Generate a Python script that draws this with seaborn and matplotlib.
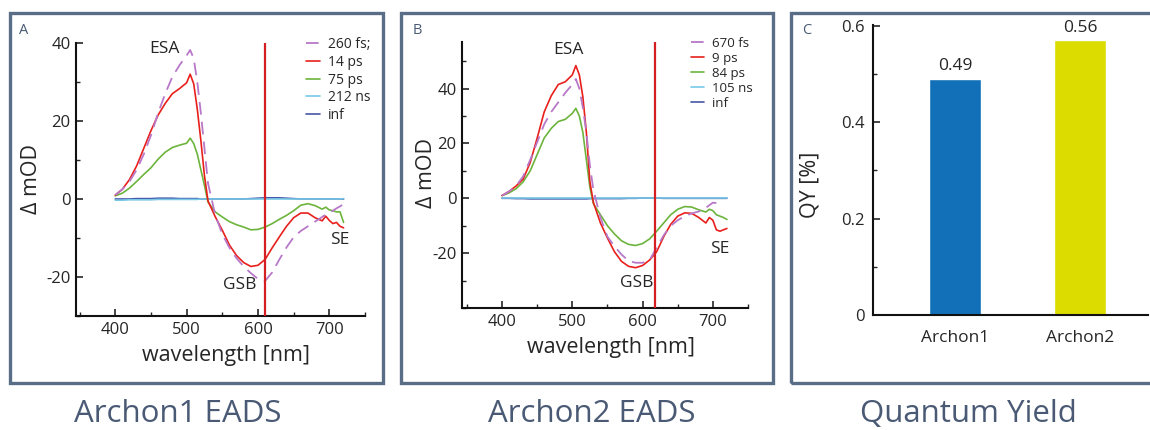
import numpy as np
import pandas as pd
import matplotlib.pyplot as plt
import seaborn as sns
from matplotlib.patches import Rectangle
from matplotlib.ticker import MultipleLocator

# wavelength grid (nm), shared by all EADS spectra
wavelength = [400, 410, 420, 430, 440, 450, 460, 470, 480, 490, 500, 505, 510, 515, 520, 525, 530,
              540, 550, 560, 570, 580, 590, 600, 610, 620, 630, 640, 650, 660, 670, 680, 690,
              695, 700, 705, 710, 715, 720]

# Archon1 EADS (delta mOD)
a_260fs = [1, 2.5, 4.5, 7.5, 11.5, 16.3, 22, 27, 31.3, 34.3, 36.8, 38.2, 36, 30, 22, 13, 4,
           -4, -9, -12.5, -15.2, -17.3, -19, -20.5, -21, -18.8, -15.5, -12.4, -9.8, -8.2, -7, -5.8, -4.6,
           -4, -3.5, -3, -2.4, -1.9, -1.3]
a_14ps = [1, 2.5, 5, 8.5, 13, 17.5, 21.5, 24.5, 27, 28.3, 29.8, 32, 29.5, 23, 15, 6, -0.5,
          -4.5, -8, -11.8, -14.5, -16.3, -17.3, -17, -15.5, -12.5, -9.7, -7, -4.8, -3.6, -3.6, -4.8, -5.6,
          -4.4, -5.5, -6.3, -6, -7, -7.4]
a_75ps = [0.8, 1.5, 2.8, 4.5, 6.3, 8, 10.2, 12, 13.2, 13.8, 14.3, 15.6, 14.2, 11.5, 7.5, 3.5, -0.8,
          -3.3, -4.6, -5.8, -6.6, -7.2, -7.9, -7.8, -7.2, -6.3, -5.2, -4.2, -3, -1.6, -1.2, -1.7, -2.6,
          -2.1, -2.8, -3, -3.3, -3.3, -6]
a_212ns = [-0.3, -0.3, -0.2, -0.2, -0.2, -0.2, -0.1, -0.1, -0.1, -0.1, -0.1, -0.1, -0.1, -0.1, 0, 0, 0,
           0, 0, 0, 0, 0, 0, 0, 0, 0, 0, 0, 0, 0, 0, 0, 0,
           0, 0, 0, 0, 0, 0.1]
a_inf = [0, 0, 0, 0.1, 0.1, 0.1, 0.2, 0.2, 0.2, 0.1, 0.1, 0.1, 0.1, 0.1, 0, 0, 0,
         0, 0, 0, 0, 0, 0.1, 0.2, 0.3, 0.3, 0.3, 0.2, 0.1, 0, 0, 0, 0,
         0, 0, 0, 0, 0, 0]

# Archon2 EADS (delta mOD)
b_670fs = [1, 2.5, 4.5, 8, 14, 20.5, 27, 31.5, 35, 38.5, 41.5, 43.5, 40, 33, 24, 12, 3,
           -7, -14, -17.5, -20.5, -22.8, -23.5, -23.5, -22.5, -18, -13.5, -10, -8, -6.5, -5.5, -4.8, -3.5,
           -2.5, -1.6, -1.7, np.nan, np.nan, np.nan]
b_9ps = [1, 2.5, 4.5, 7, 13, 22, 31.5, 37.4, 41.5, 42.5, 45, 48.4, 45, 37, 24, 6, -1.5,
         -9, -14.5, -19.5, -23, -24.8, -25.3, -24.5, -22.5, -19.5, -14, -9.5, -6.5, -5.3, -5.5, -7, -9,
         -7, -8, -11.5, -12, -11.5, -11]
b_84ps = [1, 2, 3.5, 6, 10, 16, 22, 25.5, 28, 28.8, 31, 32.8, 30, 24, 14, 4, -2,
          -6, -10, -13, -15.5, -16.8, -17.2, -16.5, -14.8, -12, -9, -6, -4, -3, -3.2, -4.2, -5,
          -4, -4.5, -6, -6.5, -7, -7.7]
b_105ns = [0, 0, 0, 0, 0, 0, 0, 0, 0, 0, 0, 0, 0, 0, 0, 0, 0,
           0, 0, 0, 0, 0, 0, 0, 0, 0, 0, 0, 0, 0, 0, 0, 0,
           0, 0, 0, 0, 0, 0]
b_inf = [0, 0, -0.1, -0.1, -0.2, -0.2, -0.2, -0.2, -0.2, -0.2, -0.2, -0.2, -0.2, -0.2, -0.2, -0.1, -0.1,
         -0.1, -0.1, -0.1, -0.1, 0, 0, 0.1, 0.1, 0.1, 0, 0, 0, 0, 0, 0, 0,
         0, 0, 0, 0, 0, 0]

a_labels = ['260 fs;', '14 ps', '75 ps', '212 ns', 'inf']
b_labels = ['670 fs', '9 ps', '84 ps', '105 ns', 'inf']

# quantum yield
qy_names = ['Archon1', 'Archon2']
qy_values = [0.49, 0.57]
qy_text = ['0.49', '0.56']

series_colors = ['#b878c8', '#e8201c', '#6cb43c', '#78c8e6', '#4656a8']
frame_color = '#5a6d87'
title_color = '#4a5a75'

sns.set_style('ticks')
plt.rcParams['font.family'] = ['Open Sans', 'DejaVu Sans']
plt.rcParams['axes.unicode_minus'] = False

W, H = 1150, 430
fig = plt.figure(figsize=(W / 100, H / 100), dpi=100)


def px_rect(left, top, right, bottom):
    return [left / W, 1 - bottom / H, (right - left) / W, (bottom - top) / H]


def draw_eads(ax, curves, labels, xlim, ylim, yticks, pump):
    for i, (vals, lab) in enumerate(zip(curves, labels)):
        style = (0, (7, 4)) if i == 0 else '-'
        lw = 1.3 if i == 0 else 1.2
        sns.lineplot(x=wavelength, y=vals, ax=ax, color=series_colors[i], lw=lw,
                     linestyle=style, label=lab, zorder=3 + (4 - i) * 0.1)
    ax.axvline(pump, color='#d41e22', lw=1.6, zorder=5)
    ax.set_xlim(*xlim)
    ax.set_ylim(*ylim)
    ax.set_xticks([400, 500, 600, 700])
    ax.set_yticks(yticks)
    ax.xaxis.set_minor_locator(MultipleLocator(50))
    ax.yaxis.set_minor_locator(MultipleLocator(10))
    ax.set_xlabel('wavelength [nm]', fontsize=15.5)
    ax.set_ylabel('Δ mOD', fontsize=15.5)
    ax.tick_params(which='major', direction='in', length=5, width=1.2, labelsize=12, pad=4)
    ax.tick_params(which='minor', direction='in', length=3, width=1.0)
    for s in ['left', 'bottom']:
        ax.spines[s].set_linewidth(1.5)
        ax.spines[s].set_color('#111111')
    sns.despine(ax=ax)


# 1. Archon1 EADS
ax_a = fig.add_axes(px_rect(76, 43, 365, 316))
draw_eads(ax_a, [a_260fs, a_14ps, a_75ps, a_212ns, a_inf], a_labels,
          (345, 750), (-30, 40), [-20, 0, 20, 40], 610)
ax_a.yaxis.set_label_coords(-0.118, 0.502)
ax_a.xaxis.set_label_coords(0.519, -0.105)
ax_a.legend(loc='upper left', bbox_to_anchor=(306 / W, 1 - 37 / H), bbox_transform=fig.transFigure,
            frameon=False, fontsize=10, handlelength=1.0, handletextpad=0.55, labelspacing=0.2,
            borderpad=0, borderaxespad=0)
ax_a.text(469, 38.5, 'ESA', fontsize=12.5, ha='center', va='center')
ax_a.text(575, -22, 'GSB', fontsize=12.5, ha='center', va='center')
ax_a.text(714, -10.5, 'SE', fontsize=12.5, ha='center', va='center')

# 2. Archon2 EADS
ax_b = fig.add_axes(px_rect(462, 42, 748, 308))
draw_eads(ax_b, [b_670fs, b_9ps, b_84ps, b_105ns, b_inf], b_labels,
          (343, 750), (-40, 57), [-20, 0, 20, 40], 618)
ax_b.yaxis.set_label_coords(-0.087, 0.507)
ax_b.xaxis.set_label_coords(0.521, -0.108)
ax_b.legend(loc='upper left', bbox_to_anchor=(691 / W, 1 - 37 / H), bbox_transform=fig.transFigure,
            frameon=False, fontsize=9.5, handlelength=1.0, handletextpad=0.6, labelspacing=0.15,
            borderpad=0, borderaxespad=0)
ax_b.text(494, 54, 'ESA', fontsize=12.5, ha='center', va='center')
ax_b.text(591, -31, 'GSB', fontsize=12.5, ha='center', va='center')
ax_b.text(710, -18.5, 'SE', fontsize=12.5, ha='center', va='center')

# 3. Quantum yield bars
ax_c = fig.add_axes(px_rect(873, 25, 1148, 315))
qy_df = pd.DataFrame({'name': qy_names, 'qy': qy_values})
sns.barplot(data=qy_df, x='name', y='qy', hue='name', palette=['#1170b8', '#dcdc00'],
            width=0.416, legend=False, ax=ax_c, saturation=1)
for i, (v, t) in enumerate(zip(qy_values, qy_text)):
    ax_c.text(i, v + 0.026, t, ha='center', va='center', fontsize=12.5)
ax_c.set_xlim(-0.656, 1.544)
ax_c.set_ylim(0, 0.602)
ax_c.set_yticks([0, 0.2, 0.4, 0.6])
ax_c.set_yticklabels(['0', '0.2', '0.4', '0.6'])
ax_c.yaxis.set_minor_locator(MultipleLocator(0.1))
ax_c.set_xlabel('')
ax_c.set_ylabel('QY [%]', fontsize=15.5)
ax_c.yaxis.set_label_coords(-0.19, 0.45)
ax_c.tick_params(axis='y', which='major', direction='in', length=5, width=1.2, labelsize=12, pad=6)
ax_c.tick_params(axis='y', which='minor', direction='in', length=3, width=1.0)
ax_c.tick_params(axis='x', length=0, labelsize=12.5, pad=11)
for s in ['left', 'bottom']:
    ax_c.spines[s].set_linewidth(1.5)
    ax_c.spines[s].set_color('#111111')
sns.despine(ax=ax_c)

# frames, panel letters, captions
for (l, t, r, b) in [(10, 13, 383, 383), (401, 13, 773, 383), (791, 13, 1153, 383)]:
    fig.add_artist(Rectangle((l / W, 1 - b / H), (r - l) / W, (b - t) / H, transform=fig.transFigure,
                             fill=False, edgecolor=frame_color, lw=2.4, clip_on=False))
for x, letter in [(24, 'A'), (417, 'B'), (807, 'C')]:
    fig.text(x / W, 1 - 30 / H, letter, fontsize=10.5, color=title_color, ha='center', va='center')
for x, title in [(178, 'Archon1 EADS'), (592, 'Archon2 EADS'), (968, 'Quantum Yield')]:
    fig.text(x / W, 1 - 414 / H, title, fontsize=22.5, color=title_color, ha='center', va='center')

fig.savefig('out.png', dpi=100)
plt.close(fig)
